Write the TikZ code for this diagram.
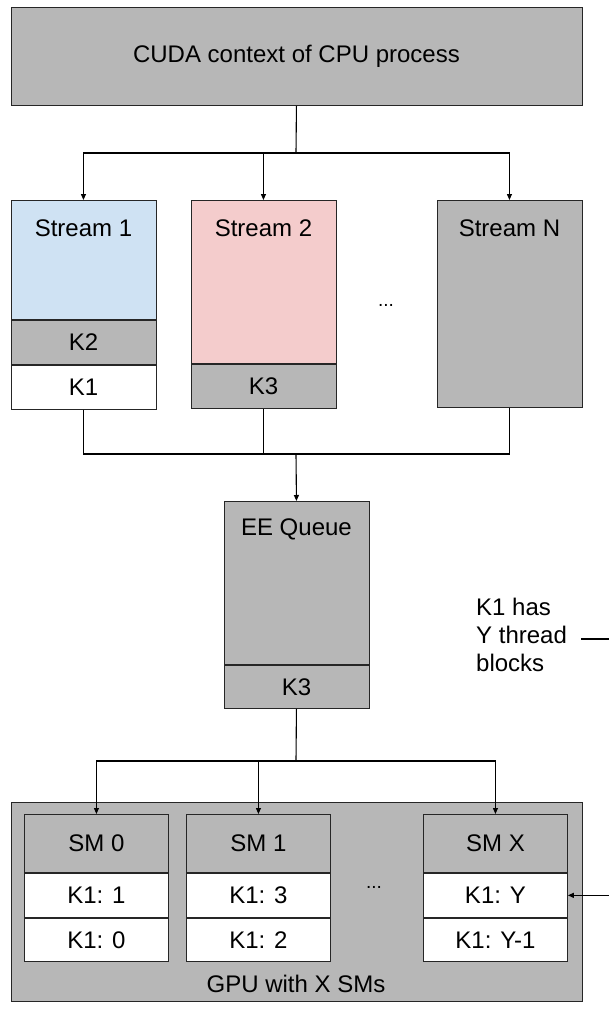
\documentclass[tikz,border=0pt]{standalone}
\usepackage{fontspec}
\setmainfont{Liberation Sans}
\usetikzlibrary{arrows.meta,calc}
\definecolor{gfill}{HTML}{B7B7B7}
\definecolor{bfill}{HTML}{CFE2F3}
\definecolor{pfill}{HTML}{F4CCCC}
\begin{document}
\begin{tikzpicture}[x=1pt,y=-1pt,
  every node/.style={font=\fontsize{24}{28}\selectfont},
  cell/.style={draw=black!85, line width=0.9pt, inner sep=0pt, anchor=north west},
  txt/.style={inner sep=0pt},
  dots/.style={inner sep=0pt, font=\fontsize{19}{20}\selectfont},
  conn/.style={draw=black, line width=1.1pt},
  arr/.style={conn, -{Triangle[length=6pt,width=5pt]}}]
\useasboundingbox (0,0) rectangle (608,1009);
% context
\node[cell, fill=gfill, minimum width=571pt, minimum height=98pt] (ctx) at (10.5,7) {CUDA context of CPU process};
% streams
\node[cell, fill=bfill, minimum width=145pt, minimum height=119pt] (s1) at (10.5,200) {};
\node[cell, fill=gfill, minimum width=145pt, minimum height=44pt, anchor=north] (s1k2) at (s1.south) {K2};
\node[cell, fill=white, minimum width=145pt, minimum height=44pt, anchor=north] (s1k1) at (s1k2.south) {K1};
\node[txt] (s1t) at ([yshift=-28pt]s1.north) {Stream 1};
\node[cell, fill=pfill, minimum width=145pt, minimum height=163pt] (s2) at (190.5,200) {};
\node[cell, fill=gfill, minimum width=145pt, minimum height=44pt, anchor=north] (s2k3) at (s2.south) {K3};
\node[txt] (s2t) at ([yshift=-28pt]s2.north) {Stream 2};
\node[cell, fill=gfill, minimum width=145pt, minimum height=207pt] (sn) at (436.5,200) {};
\node[txt] (snt) at ([yshift=-28pt]sn.north) {Stream N};
\node[dots] (d1) at (386,305) {...};
% EE queue
\node[cell, fill=gfill, minimum width=145pt, minimum height=163pt] (ee) at (223.5,501) {};
\node[cell, fill=gfill, minimum width=145pt, minimum height=43pt, anchor=north] (eek3) at (ee.south) {K3};
\node[txt] (eet) at ([yshift=-28pt]ee.north) {EE Queue};
% GPU
\node[cell, fill=gfill, minimum width=571pt, minimum height=199pt] (gpu) at (10.5,802) {};
\node[txt] (gput) at (296,984) {GPU with X SMs};
\node[cell, fill=gfill, minimum width=144pt, minimum height=58pt] (sm0) at (24,814) {SM 0};
\node[cell, fill=white, minimum width=144pt, minimum height=44pt, anchor=north] (sm0a) at (sm0.south) {K1: 1};
\node[cell, fill=white, minimum width=144pt, minimum height=43pt, anchor=north] (sm0b) at (sm0a.south) {K1: 0};
\node[cell, fill=gfill, minimum width=144pt, minimum height=58pt] (sm1) at (186,814) {SM 1};
\node[cell, fill=white, minimum width=144pt, minimum height=44pt, anchor=north] (sm1a) at (sm1.south) {K1: 3};
\node[cell, fill=white, minimum width=144pt, minimum height=43pt, anchor=north] (sm1b) at (sm1a.south) {K1: 2};
\node[cell, fill=gfill, minimum width=144pt, minimum height=58pt] (smx) at (423,814) {SM X};
\node[cell, fill=white, minimum width=144pt, minimum height=44pt, anchor=north] (smxa) at (smx.south) {K1: Y};
\node[cell, fill=white, minimum width=144pt, minimum height=43pt, anchor=north] (smxb) at (smxa.south) {K1: Y-1};
\node[dots] (d2) at (374,887) {...};
% note
\node[txt, anchor=west, align=left] (kt) at (476,635) {K1 has\\Y thread\\blocks};
% connectors
\coordinate (j1) at (296,153);
\draw[conn] (ctx.south) -- (j1);
\draw[arr] (j1) -| (s1.north);
\draw[arr] (j1) -| (s2.north);
\draw[arr] (j1) -| (sn.north);
\coordinate (j2) at (296,454);
\draw[conn] (s1k1.south) |- (j2);
\draw[conn] (s2k3.south) |- (j2);
\draw[conn] (sn.south) |- (j2);
\draw[arr] (j2) -- (ee.north);
\coordinate (j3) at (296,761);
\draw[conn] (eek3.south) -- (j3);
\draw[arr] (j3) -| (sm0.north);
\draw[arr] (j3) -| (sm1.north);
\draw[arr] (j3) -| (smx.north);
\coordinate (rt) at (625,639);
\draw[arr] ([xshift=14pt,yshift=-4pt]kt.east) -- (rt) |- (smxa.east);
\end{tikzpicture}
\end{document}
